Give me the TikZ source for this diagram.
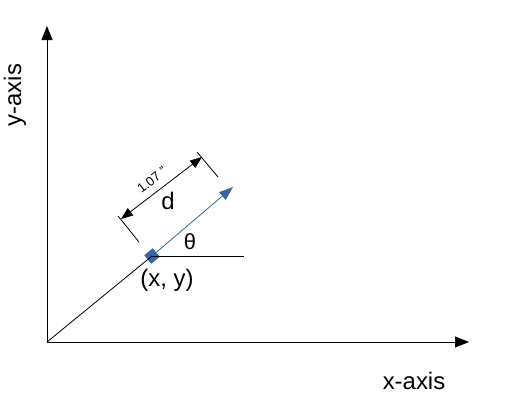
\documentclass[tikz,border=0pt]{standalone}
\usepackage{fontspec}
\setmainfont{Liberation Sans}
\usetikzlibrary{arrows.meta}
\definecolor{lblue}{HTML}{3465A4}
\tikzset{
  axis/.style={line width=0.9bp, -{Triangle[length=14bp,width=11bp]}},
  thin/.style={line width=0.8bp},
  lbl/.style={font=\fontsize{24}{26}\selectfont, inner sep=0pt},
  dimarrow/.style={line width=0.8bp, {Triangle[length=12bp,width=9bp]}-{Triangle[length=12bp,width=9bp]}},
}
\begin{document}
\begin{tikzpicture}[x=1bp,y=-1bp]
\useasboundingbox (0,0) rectangle (525,400);
\coordinate (O) at (47,342);
\coordinate (Ytop) at (47,26);
\coordinate (Xend) at (469,342);
\coordinate (Tip) at (233,187);
\coordinate (Hend) at (244,256);
\coordinate (E1a) at (118,216);
\coordinate (E1b) at (139,242);
\coordinate (E2a) at (197,152);
\coordinate (E2b) at (218,177);
\coordinate (D1) at (121,219);
\coordinate (D2) at (202,157);
\draw[axis] (O) -- (Ytop);
\draw[axis] (O) -- (Xend);
\node[lbl, rotate=90] (ylab) at (15,95) {y-axis};
\node[lbl] (xlab) at (414,381) {x-axis};
\node[draw=none, fill=lblue, minimum size=11bp, inner sep=0pt, rotate=40] (P) at (152,256) {};
\draw[thin] (O) -- (P.center);
\draw[thin] (P.center) -- (Hend);
\draw[line width=0.8bp, lblue, -{Triangle[length=14bp,width=10bp]}] (P.center) -- (Tip);
\draw[thin] (E1a) -- (E1b);
\draw[thin] (E2a) -- (E2b);
\draw[dimarrow] (D1) -- (D2);
\node[inner sep=0pt, rotate=38, font=\fontsize{13}{15}\selectfont] (dim) at (152,180) {1.07 ''};
\node[lbl] (d) at (168,201) {d};
\node[inner sep=0pt, font=\fontsize{22}{24}\selectfont] (th) at (190,242) {θ};
\node[lbl] (xy) at (167,280) {(x, y)};
\end{tikzpicture}
\end{document}
